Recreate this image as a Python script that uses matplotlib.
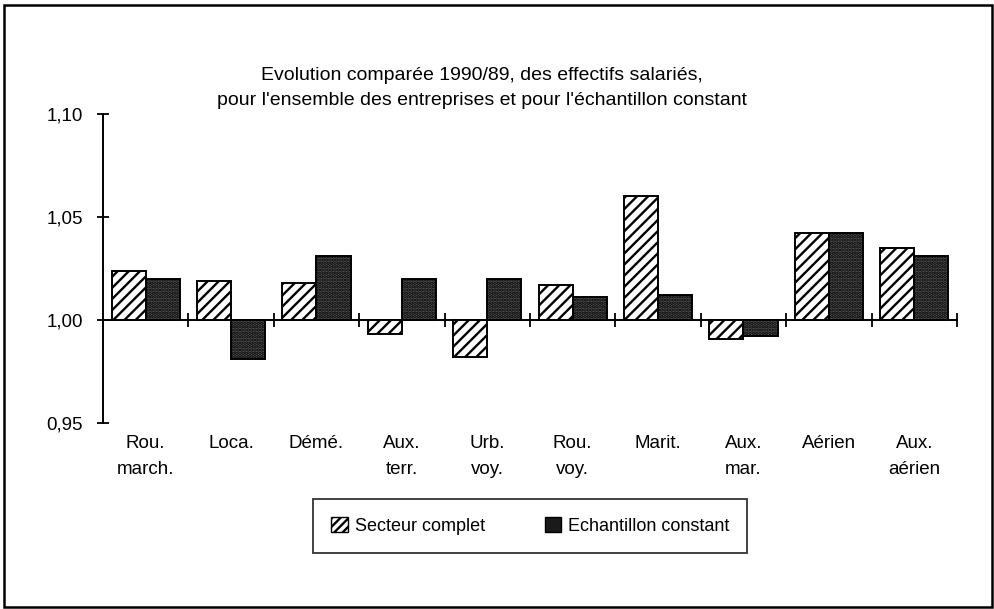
import numpy as np
import matplotlib
matplotlib.use('Agg')
import matplotlib.pyplot as plt
from matplotlib.patches import Rectangle, Patch

plt.rcParams['font.family'] = ['Liberation Sans', 'DejaVu Sans']
plt.rcParams['hatch.linewidth'] = 1.7

# data
categories = ['Rou.\nmarch.', 'Loca.', 'Démé.', 'Aux.\nterr.', 'Urb.\nvoy.',
              'Rou.\nvoy.', 'Marit.', 'Aux.\nmar.', 'Aérien', 'Aux.\naérien']
secteur_complet = [1.024, 1.019, 1.018, 0.993, 0.982, 1.017, 1.060, 0.991, 1.042, 1.035]
echantillon_constant = [1.020, 0.981, 1.031, 1.020, 1.020, 1.011, 1.012, 0.992, 1.042, 1.031]
yticks = [0.95, 1.00, 1.05, 1.10]
ytick_labels = ['0,95', '1,00', '1,05', '1,10']
title = ("Evolution comparée 1990/89, des effectifs salariés,\n"
         "pour l'ensemble des entreprises et pour l'échantillon constant")
legend_labels = ['Secteur complet', 'Echantillon constant']

base = 1.0
x = np.arange(len(categories))
width = 0.40

fig = plt.figure(figsize=(9.95, 6.09), dpi=100)
ax = fig.add_axes([0.1035, 0.3054, 0.8583, 0.5074])

sc = np.array(secteur_complet) - base
ec = np.array(echantillon_constant) - base
ax.bar(x - width / 2, sc, width, bottom=base, facecolor='white',
       edgecolor='black', hatch='///', linewidth=1.4)
ax.bar(x + width / 2, ec, width, bottom=base, facecolor='#555555',
       edgecolor='black', hatch='.....', linewidth=1.4)

ax.set_xlim(-0.5, len(categories) - 0.5)
ax.set_ylim(0.95, 1.10)

# axes styling: left spine plus a base line at 1,00
for s in ['top', 'right']:
    ax.spines[s].set_visible(False)
ax.spines['left'].set_linewidth(1.4)
ax.spines['bottom'].set_position(('data', base))
ax.spines['bottom'].set_linewidth(1.4)
ax.set_yticks(yticks)
ax.set_yticklabels(ytick_labels, fontsize=13.5)
ax.tick_params(axis='y', direction='inout', length=9, width=1.3, pad=10)
ax.set_xticks(list(x + 0.5))
ax.set_xticklabels([])
ax.tick_params(axis='x', direction='inout', length=10, width=1.3)

for xi, lab in zip(x, categories):
    ax.text(xi, -0.038, lab, transform=ax.get_xaxis_transform(),
            ha='center', va='top', fontsize=13.5, linespacing=1.68)

fig.text(0.484, 0.856, title, ha='center', va='center', fontsize=14,
         linespacing=1.6)

handles = [Patch(facecolor='white', edgecolor='black', hatch='////'),
           Patch(facecolor='#1a1a1a', edgecolor='black')]
leg = fig.legend(handles, legend_labels, loc='center', ncol=2,
                 bbox_to_anchor=(0.533, 0.136), fontsize=13,
                 frameon=True, fancybox=False, edgecolor='black',
                 handlelength=0.9, handleheight=0.9, handletextpad=0.4,
                 columnspacing=3.3, borderpad=1.0)
leg.get_frame().set_linewidth(1.3)

# outer frame around the whole figure
fig.patches.append(Rectangle((0.004, 0.004), 0.993, 0.988, transform=fig.transFigure,
                             fill=False, edgecolor='black', linewidth=1.8))

fig.savefig('out.png', dpi=100)
